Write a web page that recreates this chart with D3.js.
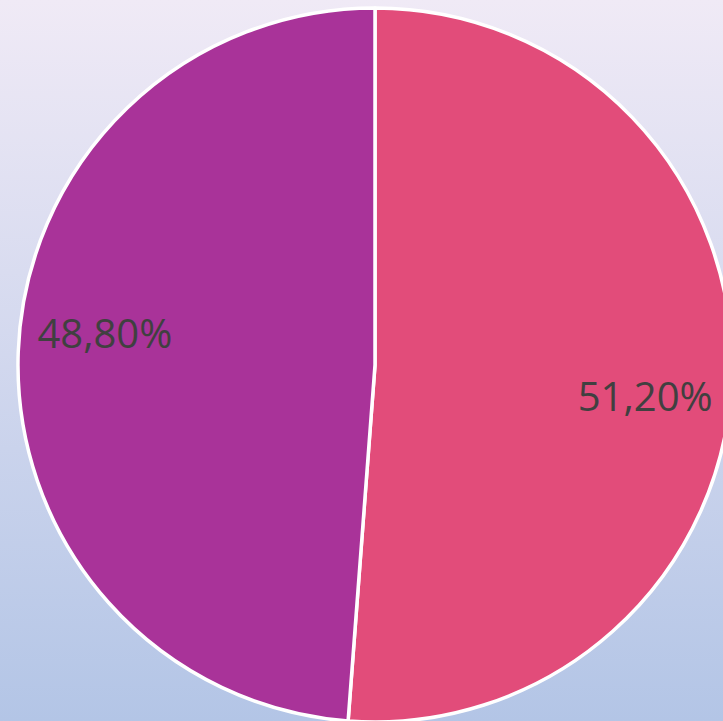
<!DOCTYPE html>
<html>
<head>
<meta charset="utf-8">
<script src="https://cdn.jsdelivr.net/npm/d3@7"></script>
<style>
  html, body { margin: 0; padding: 0; overflow: hidden; }
  svg { display: block; }
</style>
</head>
<body>
<svg id="chart" width="723" height="721"></svg>
<script>
const categories = ['A', 'B'];
const values = [51.2, 48.8];
const labels = ['51,20%', '48,80%'];
const colors = ['#e24c7a', '#a93399'];

const width = 723, height = 721;
const cx = 375, cy = 365, radius = 357;

const svg = d3.select('#chart');

// background gradient
const defs = svg.append('defs');
const grad = defs.append('linearGradient')
  .attr('id', 'bg')
  .attr('x1', 0).attr('y1', 0).attr('x2', 0).attr('y2', 1);
grad.append('stop').attr('offset', '0%').attr('stop-color', '#f0eaf6');
grad.append('stop').attr('offset', '100%').attr('stop-color', '#b3c5e6');
svg.append('rect').attr('width', width).attr('height', height).attr('fill', 'url(#bg)');

const g = svg.append('g').attr('transform', 'translate(' + cx + ',' + cy + ')');

const pie = d3.pie().sort(null).value(d => d);
const arcs = pie(values);

const arc = d3.arc().innerRadius(0).outerRadius(radius);

g.selectAll('path')
  .data(arcs)
  .enter().append('path')
  .attr('d', arc)
  .attr('fill', (d, i) => colors[i])
  .attr('stroke', '#ffffff')
  .attr('stroke-width', 3.5)
  .attr('stroke-linejoin', 'round');

// labels placed along the slice bisector (slightly rotated, like the original)
const labelR = 272;
const shift = 4.5 * Math.PI / 180;
g.selectAll('text')
  .data(arcs)
  .enter().append('text')
  .attr('x', d => Math.sin((d.startAngle + d.endAngle) / 2 + shift) * labelR)
  .attr('y', d => -Math.cos((d.startAngle + d.endAngle) / 2 + shift) * labelR)
  .attr('dy', '0.36em')
  .attr('text-anchor', 'middle')
  .style('font-family', '"Open Sans", sans-serif')
  .style('font-size', '40px')
  .style('fill', '#404040')
  .text((d, i) => labels[i]);
</script>
</body>
</html>
